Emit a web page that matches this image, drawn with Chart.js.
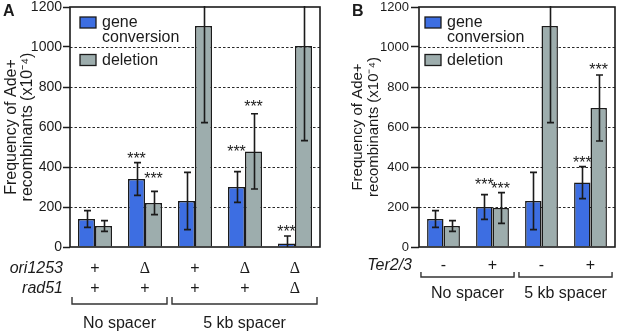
<!DOCTYPE html>
<html>
<head>
<meta charset="utf-8">
<script src="https://cdn.jsdelivr.net/npm/chart.js@4.4.1/dist/chart.umd.min.js"></script>
<style>
  html, body { margin: 0; padding: 0; background: #fff; }
  #wrap { position: relative; width: 617px; height: 331px; overflow: hidden; }
  canvas { position: absolute; top: 0; }
</style>
</head>
<body>
<div id="wrap">
  <canvas id="cA" width="322" height="331" style="left:0px"></canvas>
  <canvas id="cB" width="295" height="331" style="left:322px"></canvas>
</div>
<script>
// ---------------- DATA ----------------
const seriesNames = ['gene', 'deletion'];
const yTitle = ['Frequency of Ade+', 'recombinants (x10\u207B\u2074)'];

// Panel A
const categoriesA = ['1', '2', '3', '4', '5'];
const geneConvA = [140, 340, 230, 300, 18];
const geneConvErrA = [42, 82, 143, 77, 37];
const deletionA = [105, 220, 1105, 478, 1005];
const deletionErrA = [27, 58, 483, 188, 473];
const starsGeneA = [null, 460, null, 495, 95];     // y level (data units) of "***"
const starsDelA = [null, 360, null, 720, null];
const ori1253A = ['+', '\u0394', '+', '\u0394', '\u0394'];
const rad51A = ['+', '+', '+', '+', '\u0394'];
const groupLabelsA = ['No spacer', '5 kb spacer'];
const groupSpansA = [[0, 1], [2, 4]];

// Panel B
const categoriesB = ['1', '2', '3', '4'];
const geneConvB = [140, 200, 230, 322];
const geneConvErrB = [42, 62, 143, 80];
const deletionB = [105, 195, 1105, 695];
const deletionErrB = [27, 77, 483, 165];
const starsGeneB = [null, 330, null, 440];
const starsDelB = [null, 310, null, 905];
const ter23B = ['-', '+', '-', '+'];
const groupLabelsB = ['No spacer', '5 kb spacer'];
const groupSpansB = [[0, 1], [2, 3]];

const yTicks = [0, 200, 400, 600, 800, 1000, 1200];

// ---------------- STYLE ----------------
const BLUE = '#3d6ee2';
const GRAY = '#9dadad';
const INK = '#1b1b1b';
const SANS = '"Liberation Sans", Arial, Helvetica, sans-serif';

function makePanel(cfg) {
  return {
    id: 'panel' + cfg.letter,
    beforeDatasetsDraw(chart) {
      const { ctx, chartArea: ca, scales: { y } } = chart;
      ctx.save();
      ctx.strokeStyle = '#2a2a2a';
      ctx.lineWidth = 1.2;
      ctx.setLineDash([2.5, 2]);
      y.ticks.forEach(t => {
        if (t.value > y.min && t.value < y.max) {
          const py = Math.round(y.getPixelForValue(t.value)) + 0.5;
          ctx.beginPath(); ctx.moveTo(ca.left, py); ctx.lineTo(ca.right, py); ctx.stroke();
        }
      });
      ctx.restore();
    },
    afterDatasetsDraw(chart) {
      const { ctx, chartArea: ca, scales: { x, y } } = chart;
      ctx.save();
      // error bars
      ctx.save();
      ctx.beginPath(); ctx.rect(ca.left, ca.top - 1, ca.right - ca.left, ca.bottom - ca.top + 1); ctx.clip();
      ctx.strokeStyle = INK; ctx.lineWidth = 1.6;
      chart.data.datasets.forEach((ds, di) => {
        const meta = chart.getDatasetMeta(di);
        meta.data.forEach((bar, i) => {
          const v = ds.data[i], e = cfg.errors[di][i];
          const yt = y.getPixelForValue(v + e);
          const yb = y.getPixelForValue(v - e);
          const bx = Math.round(bar.x) + 0.5;
          ctx.beginPath(); ctx.moveTo(bx, yt); ctx.lineTo(bx, yb); ctx.stroke();
          ctx.beginPath();
          ctx.moveTo(bx - 3.5, yt); ctx.lineTo(bx + 3.5, yt);
          ctx.moveTo(bx - 3.5, yb); ctx.lineTo(bx + 3.5, yb);
          ctx.stroke();
        });
      });
      ctx.restore();

      // stars
      ctx.fillStyle = INK;
      ctx.font = '16px ' + SANS;
      ctx.textAlign = 'center';
      ctx.textBaseline = 'alphabetic';
      chart.data.datasets.forEach((ds, di) => {
        const meta = chart.getDatasetMeta(di);
        meta.data.forEach((bar, i) => {
          const s = cfg.stars[di][i];
          if (s != null) ctx.fillText('***', bar.x, y.getPixelForValue(s) + 9.2);
        });
      });

      // frame
      ctx.strokeStyle = INK; ctx.lineWidth = 1.6;
      ctx.strokeRect(ca.left, ca.top, ca.right - ca.left, ca.bottom - ca.top);

      // legend
      ctx.lineWidth = 1.3;
      ctx.fillStyle = BLUE; ctx.fillRect(cfg.legX, 17, 16, 11); ctx.strokeRect(cfg.legX, 17, 16, 11);
      ctx.fillStyle = GRAY; ctx.fillRect(cfg.legX, 54.5, 16, 11); ctx.strokeRect(cfg.legX, 54.5, 16, 11);
      ctx.fillStyle = INK; ctx.font = '16px ' + SANS; ctx.textAlign = 'left';
      ctx.fillText('gene', cfg.legX + 22, 26.5);
      ctx.fillText('conversion', cfg.legX + 22, 42);
      ctx.fillText('deletion', cfg.legX + 22, 65);

      // panel letter
      ctx.font = 'bold 16px ' + SANS;
      ctx.fillText(cfg.letter, cfg.letterX, 16);

      // rows of genotype labels under axis
      cfg.rows.forEach((row, ri) => {
        const by = cfg.rowY[ri];
        ctx.font = 'italic 16px ' + SANS;
        ctx.textAlign = 'right';
        ctx.fillText(row.name, ca.left - 7, by);
        row.values.forEach((val, i) => {
          const px = x.getPixelForValue(i);
          if (val === '\u0394') { ctx.font = '16px "Liberation Serif", "Times New Roman", serif'; }
          else { ctx.font = '16px ' + SANS; }
          ctx.textAlign = 'center';
          ctx.fillText(val, px, by);
        });
      });

      // brackets
      const cw = x.getPixelForValue(1) - x.getPixelForValue(0);
      ctx.strokeStyle = '#333'; ctx.lineWidth = 1.4;
      cfg.spans.forEach((sp, gi) => {
        const x1 = x.getPixelForValue(sp[0]) - cw * 0.46;
        const x2 = x.getPixelForValue(sp[1]) + cw * 0.44;
        ctx.beginPath();
        ctx.moveTo(x1, cfg.brY - cfg.brH); ctx.lineTo(x1, cfg.brY); ctx.lineTo(x2, cfg.brY); ctx.lineTo(x2, cfg.brY - cfg.brH);
        ctx.stroke();
        ctx.font = '16px ' + SANS; ctx.textAlign = 'center'; ctx.fillStyle = INK;
        ctx.fillText(cfg.groups[gi], (x1 + x2) / 2, cfg.grY);
      });
      ctx.restore();
    }
  };
}

function build(canvasId, cats, gc, del, cfg) {
  return new Chart(document.getElementById(canvasId), {
    type: 'bar',
    data: {
      labels: cats,
      datasets: [
        { label: seriesNames[0], data: gc, backgroundColor: BLUE, borderColor: INK, borderWidth: 1.5 },
        { label: seriesNames[1], data: del, backgroundColor: GRAY, borderColor: INK, borderWidth: 1.5 }
      ]
    },
    options: {
      responsive: false,
      animation: false,
      devicePixelRatio: 1,
      datasets: { bar: { categoryPercentage: cfg.catPct, barPercentage: 1.0 } },
      layout: { padding: { top: 7, bottom: 0, left: 0, right: cfg.padRight } },
      plugins: { legend: { display: false }, tooltip: { enabled: false } },
      scales: {
        x: {
          grid: { display: false },
          border: { display: false },
          ticks: { display: false },
          afterFit: s => { s.height = 84; s.paddingLeft = 0; s.paddingRight = 0; }
        },
        y: {
          min: 0, max: 1200,
          afterBuildTicks: s => { s.ticks = yTicks.map(v => ({ value: v })); },
          ticks: {
            color: INK, font: { family: SANS, size: cfg.tickSize }, padding: cfg.tickPad,
            callback: v => String(v)
          },
          grid: { drawOnChartArea: false, drawTicks: true, tickLength: cfg.tickLen, tickColor: INK, tickWidth: 1.5 },
          border: { display: false },
          title: {
            display: true, text: yTitle, color: INK,
            font: { family: SANS, size: cfg.titleSize, lineHeight: cfg.titleLH },
            padding: { top: cfg.titlePad, bottom: 0 }
          },
          afterFit: s => { s.width = cfg.yWidth; s.paddingTop = 0; s.paddingBottom = 0; }
        }
      }
    },
    plugins: [makePanel(cfg)]
  });
}

build('cA', categoriesA, geneConvA, deletionA, {
  letter: 'A', letterX: 3, legX: 80,
  catPct: 0.68, padRight: 2, yWidth: 70,
  tickSize: 14, tickPad: 1, tickLen: 7,
  titleSize: 16, titleLH: 1.04, titlePad: 3,
  errors: [geneConvErrA, deletionErrA],
  stars: [starsGeneA, starsDelA],
  rows: [{ name: 'ori1253', values: ori1253A }, { name: 'rad51', values: rad51A }],
  rowY: [273, 293],
  spans: groupSpansA, groups: groupLabelsA,
  brY: 304, brH: 7, grY: 328
});

build('cB', categoriesB, geneConvB, deletionB, {
  letter: 'B', letterX: 30, legX: 103,
  catPct: 0.67, padRight: 2, yWidth: 97,
  tickSize: 13, tickPad: 2, tickLen: 8,
  titleSize: 15, titleLH: 1.12, titlePad: 27,
  errors: [geneConvErrB, deletionErrB],
  stars: [starsGeneB, starsDelB],
  rows: [{ name: 'Ter2/3', values: ter23B }],
  rowY: [270],
  spans: groupSpansB, groups: groupLabelsB,
  brY: 277, brH: 5, grY: 298
});
</script>
</body>
</html>
